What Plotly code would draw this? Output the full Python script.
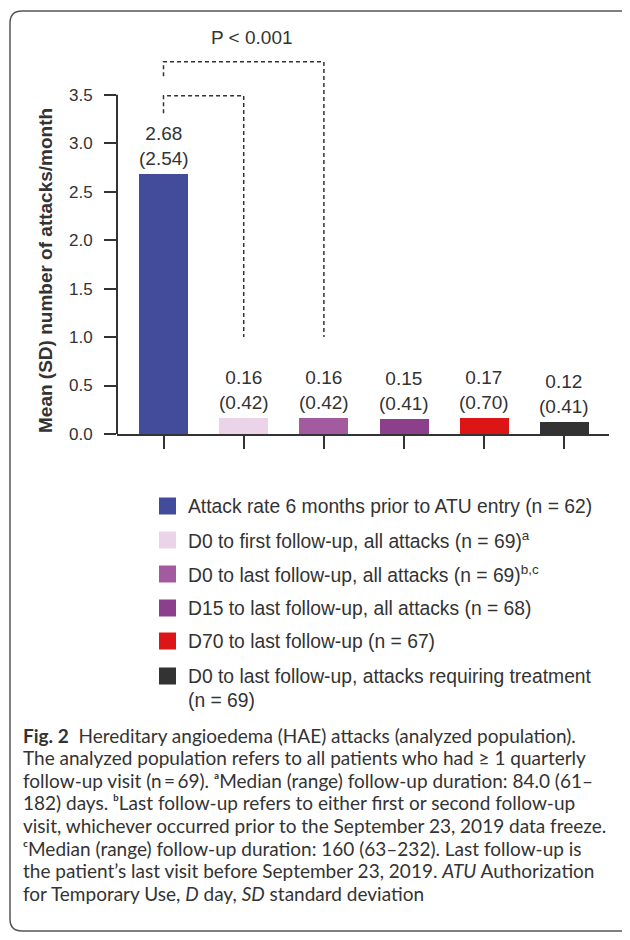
import plotly.graph_objects as go

# ---------------- data ----------------
categories = [
    "Attack rate 6 months prior to ATU entry (n = 62)",
    "D0 to first follow-up, all attacks (n = 69)<sup>a</sup>",
    "D0 to last follow-up, all attacks (n = 69)<sup>b,c</sup>",
    "D15 to last follow-up, all attacks (n = 68)",
    "D70 to last follow-up (n = 67)",
    "D0 to last follow-up, attacks requiring treatment",
]
legend_extra_line = "(n = 69)"
means = [2.68, 0.16, 0.16, 0.15, 0.17, 0.12]
sds = [2.54, 0.42, 0.42, 0.41, 0.70, 0.41]
colors = ["#434C9A", "#EBD4E9", "#A35A9E", "#8C3F8B", "#DC1616", "#333333"]
y_ticks = [0.0, 0.5, 1.0, 1.5, 2.0, 2.5, 3.0, 3.5]
p_text = "P < 0.001"
y_title = "Mean (SD) number of attacks/month"
caption_lines = [
    "<b>Fig. 2</b>  Hereditary angioedema (HAE) attacks (analyzed population).",
    "The analyzed population refers to all patients who had \u2265 1 quarterly",
    "follow-up visit (n\u2009=\u200969). \u1d43Median (range) follow-up duration: 84.0 (61\u2013",
    "182) days. \u1d47Last follow-up refers to either first or second follow-up",
    "visit, whichever occurred prior to the September 23, 2019 data freeze.",
    "\u1d9cMedian (range) follow-up duration: 160 (63\u2013232). Last follow-up is",
    "the patient\u2019s last visit before September 23, 2019. <i>ATU</i> Authorization",
    "for Temporary Use, <i>D</i> day, <i>SD</i> standard deviation",
]

# ---------------- layout helpers (reference pixel -> paper) ----------------
OFF = 8                      # page body margin
W, H = 630 - OFF, 940 - OFF
PL, PR, PT, PB = 117, 609, 56, 434   # plot area in reference pixels
def fx(px):
    return (px - PL) / (PR - PL)
def fy(py):
    return (PB - py) / (PB - PT)

TXT = "#333333"
FONT = "Liberation Sans, Arial, sans-serif"
CAP_FONT = "Lato, Open Sans, sans-serif"

x = list(range(len(means)))
fig = go.Figure()
fig.add_trace(go.Bar(
    x=x, y=means, width=0.61,
    marker=dict(color=colors, line=dict(width=0)),
    showlegend=False, hoverinfo="skip",
))

annotations = []
# value labels
for xi, m, s in zip(x, means, sds):
    annotations.append(dict(
        x=xi, y=m, xref="x", yref="y", text=f"{m:.2f}<br>({s:.2f})",
        showarrow=False, yanchor="bottom", yshift=3,
        font=dict(family=FONT, size=19, color=TXT),
    ))
# p-value
annotations.append(dict(
    x=fx(252), y=fy(37), xref="paper", yref="paper", text=p_text,
    showarrow=False, xanchor="center", yanchor="middle",
    font=dict(family=FONT, size=19, color=TXT),
))
# y title
annotations.append(dict(
    x=fx(45), y=fy(271), xref="paper", yref="paper", text="<b>" + y_title + "</b>",
    textangle=-90, showarrow=False, xanchor="center", yanchor="middle",
    font=dict(family=FONT, size=19, color=TXT),
))

shapes = []
# y axis line up to 3.5 only
shapes.append(dict(type="line", xref="paper", yref="y", x0=0, x1=0, y0=0, y1=3.5,
                   line=dict(color=TXT, width=2)))
# significance brackets
dash_line = dict(color=TXT, width=1.5, dash="4px,3px")
shapes.append(dict(type="path", xref="x", yref="y",
                   path="M 0,3.31 L 0,3.49 L 1,3.49 L 1,1.0", line=dash_line))
shapes.append(dict(type="path", xref="x", yref="y",
                   path="M 0,3.69 L 0,3.84 L 2,3.84 L 2,1.0", line=dash_line))

# legend (manual)
row_y = [506, 540, 574, 608, 641, 676]
for label, c, ry in zip(categories, colors, row_y):
    shapes.append(dict(type="rect", xref="paper", yref="paper",
                       x0=fx(159), x1=fx(176), y0=fy(ry + 8.5), y1=fy(ry - 8.5),
                       fillcolor=c, line=dict(width=0)))
    annotations.append(dict(
        x=fx(186), y=fy(ry), xref="paper", yref="paper", text=label,
        showarrow=False, xanchor="left", yanchor="middle",
        font=dict(family=FONT, size=19.3, color=TXT),
    ))
annotations.append(dict(
    x=fx(186), y=fy(700), xref="paper", yref="paper", text=legend_extra_line,
    showarrow=False, xanchor="left", yanchor="middle",
    font=dict(family=FONT, size=19.3, color=TXT),
))

# caption, one annotation per line
for i, line in enumerate(caption_lines):
    annotations.append(dict(
        x=fx(21), y=fy(735 + i * 22.6), xref="paper", yref="paper", text=line,
        showarrow=False, xanchor="left", yanchor="middle", align="left",
        font=dict(family=CAP_FONT, size=19, color=TXT),
    ))

# rounded border (right side off-canvas)
bx0, bx1, by0, by1, r = 10, 680, 11, 931, 12
rx = r / (PR - PL)
ry_ = r / (PB - PT)
X0, X1, Y0, Y1 = fx(bx0), fx(bx1), fy(by0), fy(by1)
border = (f"M {X1},{Y0} L {X0+rx},{Y0} Q {X0},{Y0} {X0},{Y0-ry_} "
          f"L {X0},{Y1+ry_} Q {X0},{Y1} {X0+rx},{Y1} L {X1},{Y1}")
shapes.append(dict(type="path", xref="paper", yref="paper", path=border,
                   line=dict(color="#555555", width=1.5)))

fig.update_layout(
    width=W, height=H,
    margin=dict(l=PL - OFF, r=W - (PR - OFF), t=PT - OFF, b=H - (PB - OFF), pad=0),
    paper_bgcolor="white", plot_bgcolor="white",
    annotations=annotations, shapes=shapes,
    bargap=0,
    xaxis=dict(range=[-0.58, 5.555], tickvals=x, showticklabels=False,
               ticks="outside", ticklen=13, tickwidth=2, tickcolor=TXT,
               showline=True, linecolor=TXT, linewidth=2,
               showgrid=False, zeroline=False, fixedrange=True),
    yaxis=dict(range=[0, 3.9], tickvals=y_ticks, ticktext=[f"{v:.1f}" for v in y_ticks],
               ticks="outside", ticklen=12, tickwidth=2, tickcolor=TXT,
               ticklabelstandoff=8,
               tickfont=dict(family=FONT, size=17, color=TXT),
               showline=False, showgrid=False, zeroline=False, fixedrange=True),
    font=dict(family=FONT, color=TXT),
)

fig.write_html("out.html")
